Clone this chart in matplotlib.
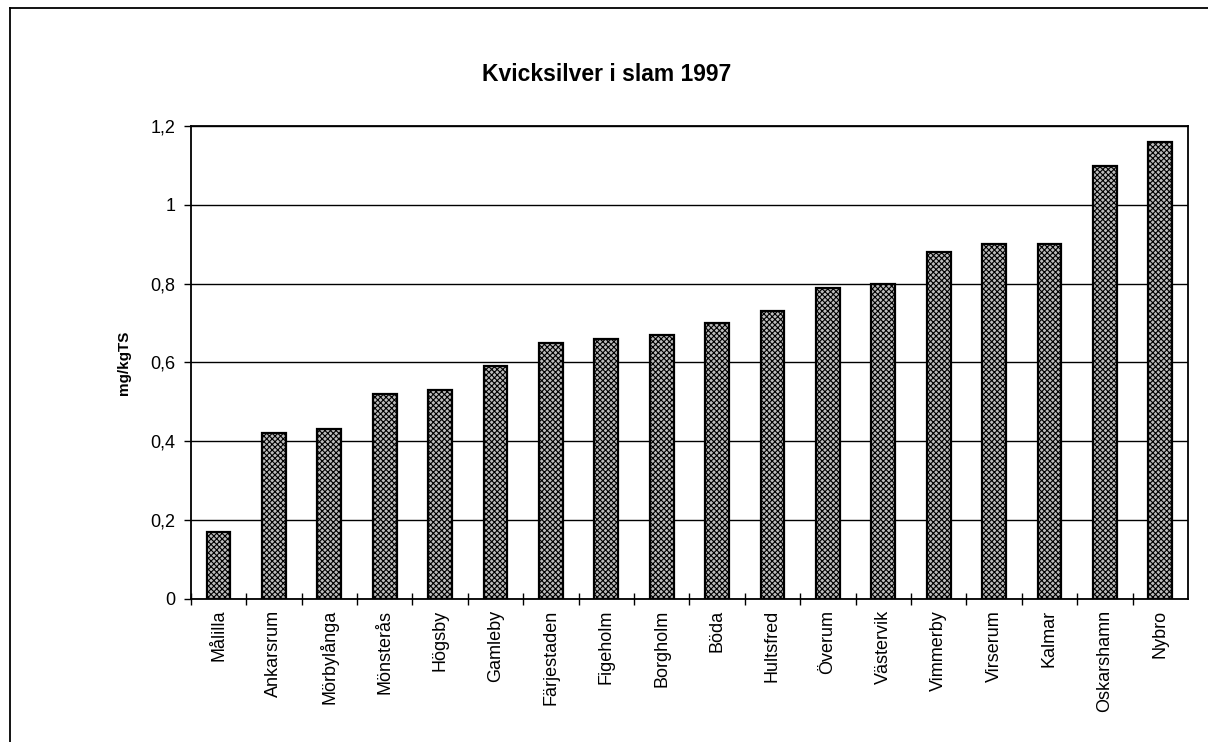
import matplotlib.pyplot as plt
import numpy as np
from matplotlib.lines import Line2D

plt.rcParams['font.family'] = ['Liberation Sans', 'DejaVu Sans']
plt.rcParams['hatch.linewidth'] = 0.8
plt.rcParams['hatch.color'] = '#303030'

orter = ["Målilla", "Ankarsrum", "Mörbylånga", "Mönsterås", "Högsby", "Gamleby",
         "Färjestaden", "Figeholm", "Borgholm", "Böda", "Hultsfred", "Överum",
         "Västervik", "Vimmerby", "Virserum", "Kalmar", "Oskarshamn", "Nybro"]
kvicksilver = [0.17, 0.42, 0.43, 0.52, 0.53, 0.59, 0.65, 0.66, 0.67, 0.70,
               0.73, 0.79, 0.80, 0.88, 0.90, 0.90, 1.10, 1.16]
y_ticks = [0, 0.2, 0.4, 0.6, 0.8, 1.0, 1.2]
y_labels = ["0", "0,2", "0,4", "0,6", "0,8", "1", "1,2"]


def main():
    fig = plt.figure(figsize=(12.08, 7.42), dpi=100)
    ax = fig.add_axes([0.158, 0.193, 0.8254, 0.637])

    x = np.arange(len(orter))
    ax.bar(x, kvicksilver, width=0.43, color='#bcbcbc', edgecolor='black',
           linewidth=1.6, hatch='xxxxxx', zorder=3)

    ax.set_xlim(-0.5, len(orter) - 0.5)
    ax.set_ylim(0, 1.2)
    ax.set_yticks(y_ticks, y_labels, fontsize=13)
    ax.yaxis.grid(True, color='black', linewidth=1.0, zorder=0)

    # ticks between categories, labels under bars
    ax.set_xticks(x - 0.5, minor=False)
    ax.set_xticklabels([])
    ax.set_xticks(x, minor=True)
    ax.set_xticklabels(orter, minor=True, rotation=90, fontsize=13)
    ax.tick_params(axis='x', which='minor', length=0, pad=8)
    ax.tick_params(axis='x', which='major', direction='inout', length=8, width=1)
    ax.tick_params(axis='y', direction='out', length=5, width=1, pad=6)

    for s in ax.spines.values():
        s.set_linewidth(1.3)

    ax.set_ylabel('mg/kgTS', fontsize=11, fontweight='bold', labelpad=14)
    fig.text(0.502, 0.9, 'Kvicksilver i slam 1997', ha='center', va='center',
             fontsize=16.5, fontweight='bold')

    # outer frame (left and top edge visible)
    fig.add_artist(Line2D([0.0083, 0.0083], [0.0, 0.989], color='black', linewidth=1.3,
                          transform=fig.transFigure))
    fig.add_artist(Line2D([0.0083, 1.0], [0.989, 0.989], color='black', linewidth=1.3,
                          transform=fig.transFigure))

    fig.savefig('out.png', dpi=100)


if __name__ == "__main__":
    main()
